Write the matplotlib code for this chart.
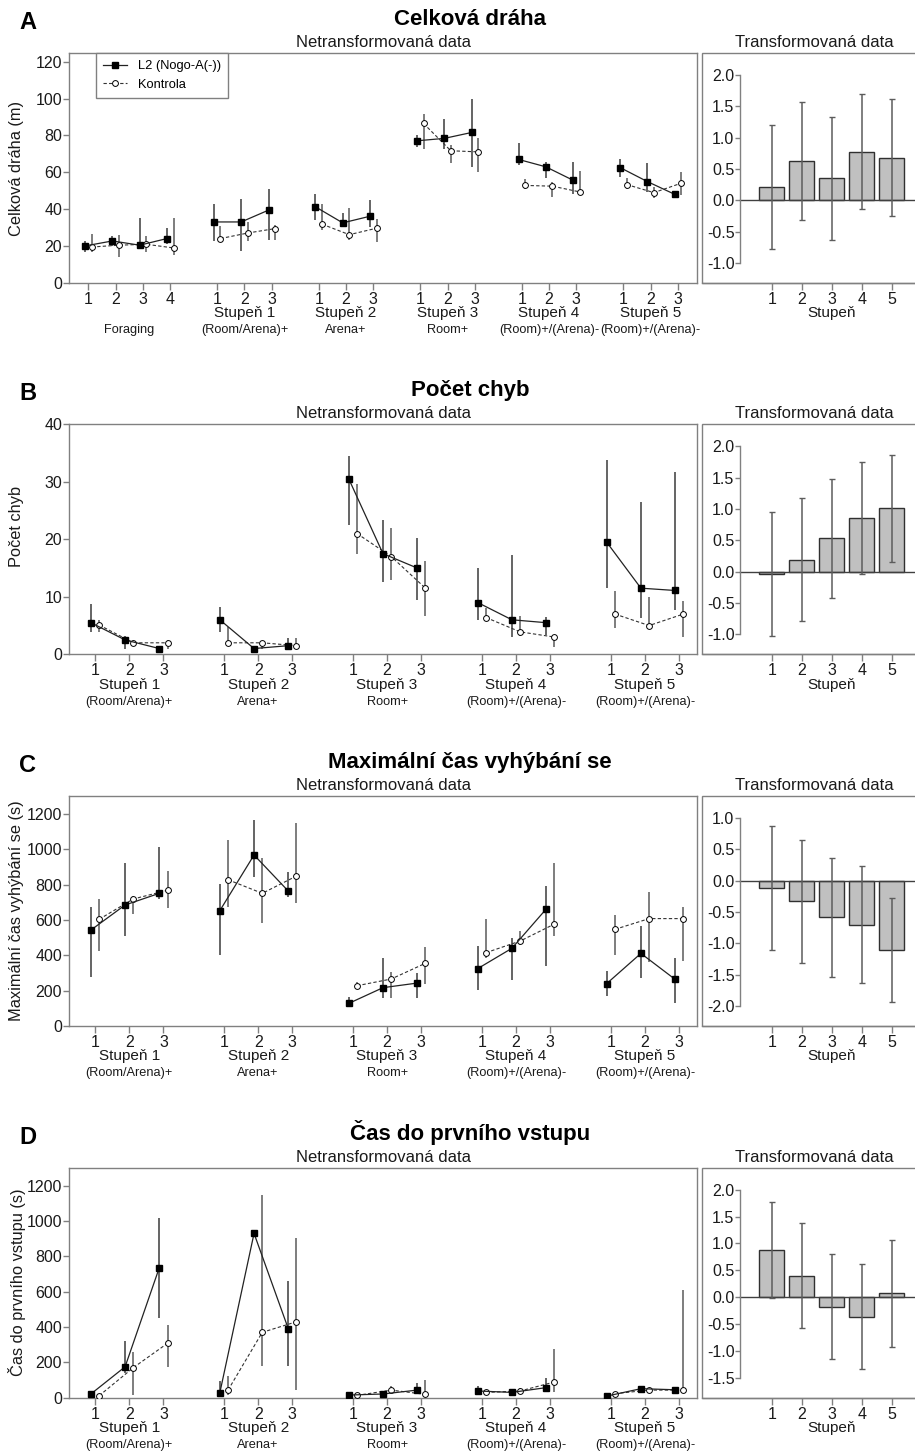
import numpy as np
import matplotlib
matplotlib.use('Agg')
import matplotlib.pyplot as plt
from matplotlib.patches import Rectangle
from matplotlib.lines import Line2D

plt.rcParams['font.family'] = ['Liberation Sans', 'DejaVu Sans']
plt.rcParams['axes.unicode_minus'] = False

# ---- data (medians + error bars) ----
# A: Celková dráha (m)
A_l2 = [20.1, 22.8, 20.5, 24.1, 33.1, 33.1, 39.5, 41.3, 32.6, 36.2, 77.1, 78.4, 81.6, 67.0, 63.0, 55.7, 62.6, 55.0, 48.1]
A_l2_lo = [17, 20, 19, 21, 22.8, 17.4, 23.5, 34.4, 31.3, 30.4, 73.8, 72.9, 63, 63.9, 57, 48.5, 57.6, 49.4, 46.7]
A_l2_hi = [23, 25.7, 35, 30, 43.1, 45.8, 50.9, 48.5, 38, 45.2, 80.2, 88.9, 99.5, 75.7, 65.5, 65.5, 67, 65.2, 50]
A_k = [19.5, 20.5, 21, 19, 24.1, 27.1, 29.5, 31.9, 26.2, 29.7, 86.5, 71.7, 71.1, 52.9, 52.5, 49.4, 53.4, 49, 54.1]
A_k_lo = [17, 14.1, 16.8, 15, 22, 23, 23.5, 28.6, 23.2, 22.3, 72.4, 64.8, 60.3, 51, 46.7, 48.5, 50.7, 46.3, 47.6]
A_k_hi = [26.8, 25.9, 25.7, 35.5, 30.8, 33, 31.3, 43.1, 40.9, 34.9, 91.6, 74.7, 78.7, 56.3, 55, 60.6, 57, 52.1, 60.3]
A_bar = [0.21, 0.62, 0.35, 0.77, 0.68]
A_bar_lo = [-0.77, -0.32, -0.63, -0.14, -0.25]
A_bar_hi = [1.2, 1.57, 1.33, 1.69, 1.61]

# B: Počet chyb
B_l2 = [5.5, 2.5, 1.0, 6.0, 1.0, 1.5, 30.5, 17.5, 15.0, 9.0, 6.0, 5.5, 19.5, 11.5, 11.1]
B_l2_lo = [3.9, 1.0, 0.6, 3.9, 0.6, 1.0, 22.5, 12.5, 9.4, 6.0, 3.0, 3.4, 11.5, 6.3, 7.7]
B_l2_hi = [8.7, 3.1, 1.4, 8.3, 1.4, 2.8, 34.5, 23.4, 20.3, 15.0, 17.3, 6.5, 33.8, 26.5, 31.7]
B_k = [5.1, 2.0, 2.0, 2.0, 2.0, 1.5, 21.0, 17.0, 11.5, 6.4, 3.9, 3.0, 7.0, 5.0, 7.0]
B_k_lo = [3.9, 1.7, 1.0, 1.5, 1.0, 1.0, 17.4, 13.0, 6.7, 5.9, 3.1, 1.2, 4.5, 4.5, 3.0]
B_k_hi = [6.0, 2.3, 2.5, 4.8, 2.3, 2.8, 29.6, 22.0, 16.3, 8.0, 6.7, 3.4, 11.0, 10.0, 9.2]
B_bar = [-0.04, 0.19, 0.54, 0.85, 1.01]
B_bar_lo = [-1.03, -0.79, -0.42, -0.04, 0.16]
B_bar_hi = [0.95, 1.18, 1.48, 1.75, 1.86]

# C: Maximální čas vyhýbání se (s)
C_l2 = [543, 685, 751, 653, 968, 764, 128, 217, 243, 325, 440, 662, 240, 411, 264]
C_l2_lo = [280, 510, 717, 402, 845, 728, 109, 157, 157, 204, 260, 342, 170, 270, 128]
C_l2_hi = [675, 925, 1015, 802, 1166, 874, 162, 383, 298, 453, 496, 794, 311, 568, 387]
C_k = [604, 719, 768, 828, 751, 849, 228, 266, 355, 415, 481, 577, 547, 608, 608]
C_k_lo = [426, 634, 666, 675, 581, 694, 213, 157, 236, 383, 458, 509, 400, 364, 368]
C_k_hi = [717, 735, 877, 1053, 949, 1147, 251, 308, 445, 604, 538, 925, 628, 757, 672]
C_bar = [-0.11, -0.33, -0.58, -0.70, -1.10]
C_bar_lo = [-1.10, -1.31, -1.53, -1.63, -1.93]
C_bar_hi = [0.88, 0.65, 0.37, 0.24, -0.28]

# D: Čas do prvního vstupu (s)
D_l2 = [21, 175, 736, 28, 930, 391, 15, 21, 43, 38, 30, 57, 9, 51, 45]
D_l2_lo = [12, 142, 449, 15, 925, 181, 8, 14, 25, 21, 22, 43, 4, 44, 38]
D_l2_hi = [32, 323, 1015, 96, 935, 660, 22, 28, 81, 66, 38, 109, 14, 58, 52]
D_k = [11, 170, 308, 43, 370, 430, 13, 43, 19, 30, 38, 89, 23, 43, 43]
D_k_lo = [5, 15, 175, 15, 179, 43, 7, 21, 6, 22, 30, 34, 17, 36, 25]
D_k_hi = [17, 257, 411, 125, 1147, 906, 19, 66, 100, 38, 55, 274, 29, 50, 609]
D_bar = [0.88, 0.40, -0.18, -0.37, 0.07]
D_bar_lo = [-0.02, -0.58, -1.16, -1.34, -0.93]
D_bar_hi = [1.78, 1.38, 0.81, 0.62, 1.06]

stages_A = ['', 'Stupeň 1', 'Stupeň 2', 'Stupeň 3', 'Stupeň 4', 'Stupeň 5']
phases_A = ['Foraging', '(Room/Arena)+', 'Arena+', 'Room+', '(Room)+/(Arena)-', '(Room)+/(Arena)-']
sizes_A = [4, 3, 3, 3, 3, 3]
stages = ['Stupeň 1', 'Stupeň 2', 'Stupeň 3', 'Stupeň 4', 'Stupeň 5']
phases = ['(Room/Arena)+', 'Arena+', 'Room+', '(Room)+/(Arena)-', '(Room)+/(Arena)-']
sizes = [3, 3, 3, 3, 3]
bar_x = [1, 2, 3, 4, 5]

titles = ['Celková dráha', 'Počet chyb', 'Maximální čas vyhýbání se', 'Čas do prvního vstupu']
ylabels = ['Celková dráha (m)', 'Počet chyb', 'Maximální čas vyhýbání se (s)', 'Čas do prvního vstupu (s)']
letters = ['A', 'B', 'C', 'D']

# ---- layout (pixels) ----
W, H = 915, 1454
tops = [53, 424.3, 796, 1167.7]
AX_H = 230
GRAY = '#808080'
TXT = '#1a1a1a'

fig = plt.figure(figsize=(W / 100, H / 100), dpi=100)


def fy(py):
    return 1 - py / H


def group_pos(ns, gap):
    pos, centers = [], []
    x = 0.0
    for n in ns:
        xs = [x + i for i in range(n)]
        pos += xs
        centers.append(np.mean(xs))
        x = xs[-1] + gap
    return pos, centers


def style_spines(ax):
    for s in ax.spines.values():
        s.set_color(GRAY)
        s.set_linewidth(1.0)
    ax.tick_params(colors=GRAY, labelcolor=TXT, width=1.0)


def left_panel(ax, l2, l2lo, l2hi, k, klo, khi, ns, gap, stg, phs, ylim, yticks, xlim):
    pos, centers = group_pos(ns, gap)
    pos = np.array(pos)
    d = 0.12
    ax.vlines(pos - d, l2lo, l2hi, color='#3a3a3a', lw=1.1, zorder=1)
    ax.vlines(pos + d, klo, khi, color='#5a5a5a', lw=1.1, zorder=1)
    i0 = 0
    for n in ns:
        sl = slice(i0, i0 + n)
        ax.plot(pos[sl] + d, np.array(k)[sl], ls=(0, (3, 2)), color='#333333', lw=0.8,
                marker='o', ms=4.2, mfc='white', mec='black', mew=0.7, zorder=3)
        ax.plot(pos[sl] - d, np.array(l2)[sl], ls='-', color='#222222', lw=0.9,
                marker='s', ms=4.6, mfc='black', mec='black', zorder=4)
        i0 += n
    ax.set_xlim(*xlim)
    ax.set_ylim(*ylim)
    ax.set_yticks(yticks)
    ax.set_xticks(pos)
    ax.set_xticklabels([str(i + 1) for n in ns for i in range(n)])
    style_spines(ax)
    ax.tick_params(axis='y', length=4, pad=1, labelsize=11.5)
    ax.tick_params(axis='x', length=5, pad=1.5, labelsize=11.5)
    tr = ax.get_xaxis_transform()
    for c, s, p in zip(centers, stg, phs):
        if s:
            ax.annotate(s, (c, 0), xycoords=tr, xytext=(0, -21.8), textcoords='offset points',
                        ha='center', va='center', fontsize=11, color=TXT)
        ax.annotate(p, (c, 0), xycoords=tr, xytext=(0, -34), textcoords='offset points',
                    ha='center', va='center', fontsize=9.2, color=TXT)


def right_panel(ax, mean, lo, hi, yticks):
    x_axis = -0.057
    xl = (-1.323, 6.277)
    ymin, ymax = yticks[0], yticks[-1]
    rng = ymax - ymin
    ax.set_xlim(*xl)
    ax.set_ylim(ymin - 20 / 187.5 * rng, ymax + 22 / 187.5 * rng)
    mean = np.array(mean)
    err = [mean - np.array(lo), np.array(hi) - mean]
    ax.bar(bar_x, mean, width=0.83, color='#c0c0c0', edgecolor='#303030', lw=1.0, zorder=2)
    ax.errorbar(bar_x, mean, yerr=err, fmt='none', ecolor='#5c5c5c', elinewidth=1.1,
                capsize=2.5, capthick=1.0, zorder=3)
    ax.axhline(0, xmin=(x_axis - xl[0]) / (xl[1] - xl[0]), xmax=1, color='#404040', lw=1.0, zorder=2.5)
    ax.spines['left'].set_position(('data', x_axis))
    ax.spines['left'].set_bounds(ymin, ymax)
    ax.spines['top'].set_visible(False)
    ax.spines['right'].set_visible(False)
    ax.add_patch(Rectangle((0, 0), 1, 1, transform=ax.transAxes, fill=False,
                           edgecolor=GRAY, lw=1.0, clip_on=False, zorder=5))
    ax.set_yticks(yticks)
    ax.set_yticklabels(['%.1f' % v for v in yticks])
    ax.set_xticks(bar_x)
    style_spines(ax)
    ax.tick_params(axis='y', length=3.5, pad=0.5, labelsize=11.5)
    ax.tick_params(axis='x', length=5, pad=1.5, labelsize=11.5)
    ax.annotate('Stupeň', (3, 0), xycoords=ax.get_xaxis_transform(), xytext=(0, -21.8),
                textcoords='offset points', ha='center', va='center', fontsize=11, color=TXT)


panels = [
    (A_l2, A_l2_lo, A_l2_hi, A_k, A_k_lo, A_k_hi, A_bar, A_bar_lo, A_bar_hi),
    (B_l2, B_l2_lo, B_l2_hi, B_k, B_k_lo, B_k_hi, B_bar, B_bar_lo, B_bar_hi),
    (C_l2, C_l2_lo, C_l2_hi, C_k, C_k_lo, C_k_hi, C_bar, C_bar_lo, C_bar_hi),
    (D_l2, D_l2_lo, D_l2_hi, D_k, D_k_lo, D_k_hi, D_bar, D_bar_lo, D_bar_hi),
]
left_yticks = [np.arange(0, 121, 20), np.arange(0, 41, 10), np.arange(0, 1201, 200), np.arange(0, 1201, 200)]
left_ylim = [(0, 124.7), (0, 40), (0, 1302), (0, 1302)]
right_yticks = [np.arange(-1.0, 2.01, 0.5), np.arange(-1.0, 2.01, 0.5),
                np.arange(-2.0, 1.01, 0.5), np.arange(-1.5, 2.01, 0.5)]
ylabel_y = [0.5, 0.555, 0.5, 0.5]

for i, (top, data) in enumerate(zip(tops, panels)):
    l2, l2lo, l2hi, k, klo, khi, bm, blo, bhi = data
    axl = fig.add_axes([69 / W, fy(top + AX_H), 628 / W, AX_H / H])
    axr = fig.add_axes([702 / W, fy(top + AX_H), 228 / W, AX_H / H])
    if i == 0:
        left_panel(axl, l2, l2lo, l2hi, k, klo, khi, sizes_A, 1.72, stages_A, phases_A,
                   left_ylim[i], left_yticks[i], (-0.71, 22.3))
    else:
        left_panel(axl, l2, l2lo, l2hi, k, klo, khi, sizes, 1.77, stages, phases,
                   left_ylim[i], left_yticks[i], (-0.76, 17.6))
    right_panel(axr, bm, blo, bhi, right_yticks[i])

    axl.text((17 - 69) / 628, ylabel_y[i], ylabels[i], transform=axl.transAxes, rotation=90,
             ha='center', va='center', fontsize=11.8, color=TXT)

    fig.text(19 / W, fy(top - 24), letters[i], fontsize=17, fontweight='bold', va='baseline', color='black')
    fig.text(470 / W, fy(top - 28), titles[i], fontsize=16, fontweight='bold', ha='center',
             va='baseline', color='black')
    fig.text(383 / W, fy(top - 6), 'Netransformovaná data', fontsize=12, ha='center',
             va='baseline', color=TXT)
    fig.text(814.5 / W, fy(top - 6), 'Transformovaná data', fontsize=12, ha='center',
             va='baseline', color=TXT)

    if i == 0:
        handles = [Line2D([], [], ls='-', color='#222222', lw=0.9, marker='s', ms=4.6, mfc='black', mec='black'),
                   Line2D([], [], ls=(0, (3, 2)), color='#333333', lw=0.8, marker='o', ms=4.2,
                          mfc='white', mec='black', mew=0.7)]
        leg = axl.legend(handles, ['L2 (Nogo-A(-))', 'Kontrola'], loc='upper left',
                         bbox_to_anchor=(26.7 / 628, 1.0), borderaxespad=0, fancybox=False,
                         framealpha=1, edgecolor=GRAY, fontsize=9.3, handlelength=1.9,
                         labelspacing=0.5, borderpad=0.55, handletextpad=0.8)
        leg.get_frame().set_linewidth(1.0)

fig.savefig('out.png', dpi=100)
